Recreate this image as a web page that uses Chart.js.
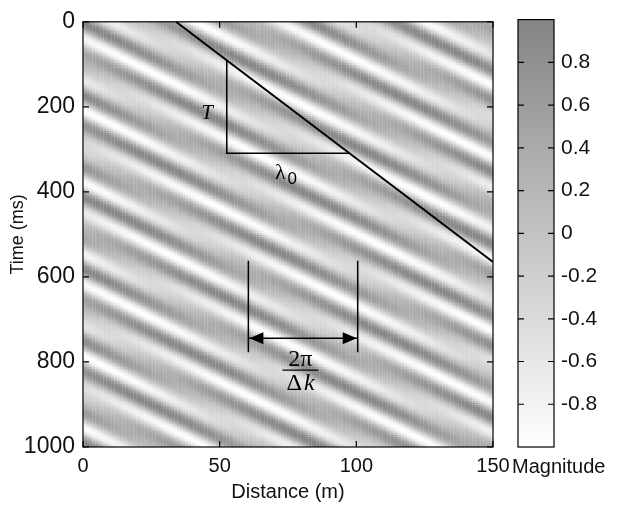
<!DOCTYPE html>
<html lang="en">
<head>
<meta charset="UTF-8">
<title>Wave group</title>
<script src="https://cdn.jsdelivr.net/npm/chart.js"></script>
<style>
  body { margin: 0; background: #fff; }
  #wrap { position: relative; width: 618px; height: 508px; }
  #fieldChart { position: absolute; left: 0; top: 0; }
  #scaleChart { position: absolute; left: 495px; top: 0; }
</style>
</head>
<body>
<div id="wrap">
  <canvas id="fieldChart" width="618" height="508"></canvas>
  <canvas id="scaleChart" width="123" height="508"></canvas>
</div>
<script>
// axis ticks
var distanceTicks = [0, 50, 100, 150];          // m
var timeTicks = [0, 200, 400, 600, 800, 1000];  // ms
var magnitudeTicks = [-0.8, -0.6, -0.4, -0.2, 0, 0.2, 0.4, 0.6, 0.8];

// sampling of the wavefield
var distanceStep = 1;   // m
var timeStep = 5;       // ms

// the two wave trains that beat against each other
var waveNumbers = [0.221, 0.378];     // rad/m
var angularFreqs = [0.0763, 0.1085];  // rad/ms
var amplitudes = [0.68, 0.32];
var phases = [0.4, 0.4];

// annotations, in data units (m, ms)
var groupLine = [[34, 0], [150, 565]];
var triangle = [[52.6, 91], [52.6, 309], [97.4, 309]];
var bracketLeft = [[60.5, 562], [60.5, 777]];
var bracketRight = [[100.5, 562], [100.5, 777]];
var arrowTime = 744;

var font = "'Liberation Sans', Arial, Helvetica, sans-serif";
var serif = "'Liberation Serif', 'Times New Roman', serif";

// grey level for a magnitude between -1 and 1
function shade(v) {
    var g = Math.round(255 - (v + 1) / 2 * 122);
    return 'rgb(' + g + ',' + g + ',' + g + ')';
}

// build the field cells
var cells = [];
var cellColors = [];
for (var t = 0; t <= 1000; t += timeStep) {
    for (var x = 0; x <= 150; x += distanceStep) {
        var v = 0;
        for (var i = 0; i < waveNumbers.length; i++) {
            v += amplitudes[i] * Math.cos(waveNumbers[i] * x - angularFreqs[i] * t + phases[i]);
        }
        cells.push({ x: x, y: t });
        cellColors.push(shade(v));
    }
}

// box around the plot with inward ticks on every side
var framePlugin = {
    id: 'frame',
    afterDraw: function (chart, args, opts) {
        var ctx = chart.ctx;
        var a = chart.chartArea;
        ctx.save();
        ctx.strokeStyle = '#000';
        ctx.lineWidth = 1.2;
        ctx.strokeRect(a.left, a.top, a.right - a.left, a.bottom - a.top);
        ctx.beginPath();
        if (opts.xTicks) {
            opts.xTicks.forEach(function (v) {
                var px = chart.scales.x.getPixelForValue(v);
                ctx.moveTo(px, a.bottom); ctx.lineTo(px, a.bottom - 6);
                ctx.moveTo(px, a.top); ctx.lineTo(px, a.top + 6);
            });
        }
        if (opts.yTicks) {
            opts.yTicks.forEach(function (v) {
                var py = chart.scales.y.getPixelForValue(v);
                ctx.moveTo(a.left, py); ctx.lineTo(a.left + 6, py);
                ctx.moveTo(a.right, py); ctx.lineTo(a.right - 6, py);
            });
        }
        ctx.stroke();
        ctx.restore();
    }
};

// group line, period triangle and beat-length bracket
var notesPlugin = {
    id: 'notes',
    afterDatasetsDraw: function (chart) {
        var ctx = chart.ctx;
        var sx = chart.scales.x, sy = chart.scales.y;
        function px(p) { return [sx.getPixelForValue(p[0]), sy.getPixelForValue(p[1])]; }
        function path(pts, w) {
            ctx.lineWidth = w;
            ctx.beginPath();
            pts.forEach(function (p, k) {
                var q = px(p);
                if (k === 0) ctx.moveTo(q[0], q[1]); else ctx.lineTo(q[0], q[1]);
            });
            ctx.stroke();
        }
        ctx.save();
        ctx.beginPath();
        ctx.rect(chart.chartArea.left, chart.chartArea.top, chart.chartArea.right - chart.chartArea.left, chart.chartArea.bottom - chart.chartArea.top);
        ctx.clip();
        ctx.strokeStyle = '#000';
        ctx.fillStyle = '#000';
        path(groupLine, 2);
        path(triangle, 1.5);
        path(bracketLeft, 1.5);
        path(bracketRight, 1.5);

        // double arrow between the bracket legs
        var l = px([bracketLeft[0][0], arrowTime]);
        var r = px([bracketRight[0][0], arrowTime]);
        ctx.lineWidth = 1.5;
        ctx.beginPath();
        ctx.moveTo(l[0], l[1]); ctx.lineTo(r[0], r[1]);
        ctx.stroke();
        ctx.beginPath();
        ctx.moveTo(l[0] + 1, l[1]); ctx.lineTo(l[0] + 15, l[1] - 6); ctx.lineTo(l[0] + 15, l[1] + 6);
        ctx.closePath();
        ctx.moveTo(r[0] - 1, r[1]); ctx.lineTo(r[0] - 15, r[1] - 6); ctx.lineTo(r[0] - 15, r[1] + 6);
        ctx.closePath();
        ctx.fill();

        // labels
        ctx.textBaseline = 'middle';
        ctx.textAlign = 'center';
        var tp = px([45.4, 216]);
        ctx.font = 'italic 21px ' + serif;
        ctx.fillText('T', tp[0], tp[1]);

        var lp = px([74, 360]);
        ctx.font = '22px ' + serif;
        ctx.fillText('\u03bb', lp[0] - 5, lp[1] - 2);
        ctx.font = '17px ' + font;
        ctx.fillText('0', lp[0] + 7, lp[1] + 4);

        var fp = px([79.5, 819]);
        ctx.font = '24px ' + serif;
        ctx.fillText('2\u03c0', fp[0], fp[1] - 10);
        ctx.lineWidth = 1.2;
        ctx.beginPath();
        ctx.moveTo(fp[0] - 18, fp[1]); ctx.lineTo(fp[0] + 18, fp[1]);
        ctx.stroke();
        ctx.fillText('\u0394', fp[0] - 6, fp[1] + 14);
        ctx.font = 'italic 24px ' + serif;
        ctx.fillText('k', fp[0] + 9, fp[1] + 14);
        ctx.restore();
    }
};

new Chart(document.getElementById('fieldChart'), {
    type: 'scatter',
    data: {
        datasets: [{
            data: cells,
            pointStyle: 'rect',
            pointRadius: 2,
            pointBackgroundColor: cellColors,
            pointBorderWidth: 0
        }]
    },
    options: {
        responsive: false,
        animation: false,
        events: [],
        layout: { padding: { left: 0, top: 17, right: 125, bottom: 0 } },
        plugins: {
            legend: { display: false },
            tooltip: { enabled: false },
            frame: { xTicks: distanceTicks, yTicks: timeTicks }
        },
        scales: {
            x: {
                type: 'linear',
                min: 0, max: 150,
                afterBuildTicks: function (s) { s.ticks = distanceTicks.map(function (v) { return { value: v }; }); },
                afterFit: function (s) { s.height = 61; },
                grid: { display: false, drawTicks: false },
                border: { display: false },
                ticks: { color: '#111', padding: 7, maxRotation: 0, font: { family: font, size: 20 }, callback: function (v) { return String(v); } },
                title: { display: true, text: 'Distance (m)', color: '#111', padding: { top: 0, bottom: 4 }, font: { family: font, size: 20 } }
            },
            y: {
                type: 'linear',
                reverse: true,
                min: 0, max: 1000,
                afterBuildTicks: function (s) { s.ticks = timeTicks.map(function (v) { return { value: v }; }); },
                afterFit: function (s) { s.width = 83; },
                grid: { display: false, drawTicks: false },
                border: { display: false },
                ticks: { color: '#111', padding: 8, font: { family: font, size: 23 }, callback: function (v) { return String(v); } },
                title: { display: true, text: 'Time (ms)', color: '#111', padding: { top: 7, bottom: 0 }, font: { family: font, size: 18 } }
            }
        }
    },
    plugins: [notesPlugin, framePlugin]
});

// colour scale
var labelPlugin = {
    id: 'magLabel',
    afterDraw: function (chart) {
        var ctx = chart.ctx;
        ctx.save();
        ctx.fillStyle = '#111';
        ctx.font = '20px ' + font;
        ctx.textBaseline = 'middle';
        ctx.textAlign = 'left';
        ctx.fillText('Magnitude', chart.chartArea.left - 6, 467);
        ctx.restore();
    }
};

new Chart(document.getElementById('scaleChart'), {
    type: 'bar',
    data: {
        labels: ['Magnitude'],
        datasets: [{
            data: [[-1, 1]],
            barPercentage: 1,
            categoryPercentage: 1,
            borderWidth: 0,
            backgroundColor: function (c) {
                var chart = c.chart;
                if (!chart.chartArea) return null;
                var ys = chart.scales.y;
                var g = chart.ctx.createLinearGradient(0, ys.getPixelForValue(-1), 0, ys.getPixelForValue(1));
                g.addColorStop(0, shade(-1));
                g.addColorStop(1, shade(1));
                return g;
            }
        }]
    },
    options: {
        responsive: false,
        animation: false,
        events: [],
        layout: { padding: { left: 23, top: 17, right: 0, bottom: 61 } },
        plugins: {
            legend: { display: false },
            tooltip: { enabled: false },
            frame: { yTicks: magnitudeTicks }
        },
        scales: {
            x: { display: false },
            y: {
                position: 'right',
                min: -1, max: 1,
                afterBuildTicks: function (s) { s.ticks = magnitudeTicks.map(function (v) { return { value: v }; }); },
                afterFit: function (s) { s.width = 64; },
                grid: { display: false, drawTicks: false },
                border: { display: false },
                ticks: {
                    color: '#111', padding: 7, font: { family: font, size: 21 },
                    callback: function (v) { return v === 0 ? '0' : v.toFixed(1); }
                }
            }
        }
    },
    plugins: [framePlugin, labelPlugin]
});
</script>
</body>
</html>
